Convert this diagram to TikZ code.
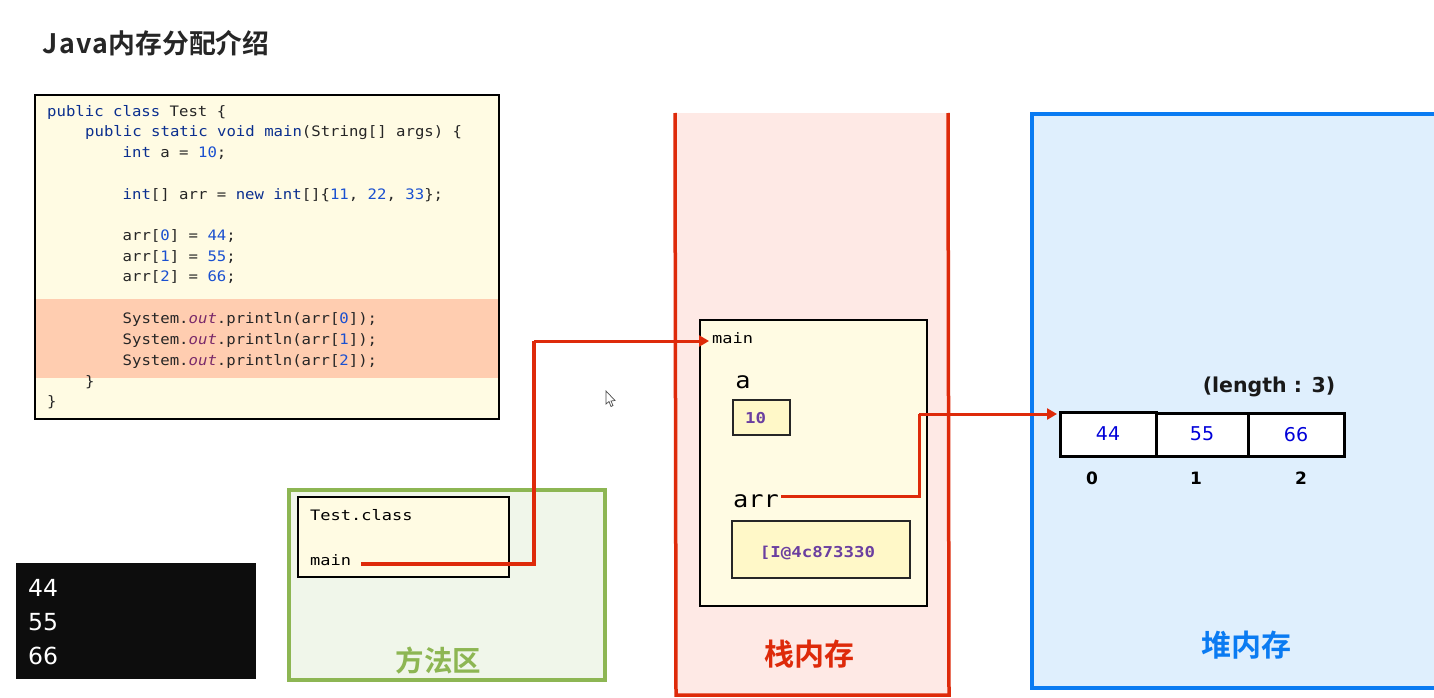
\documentclass[tikz,border=0pt]{standalone}
\usepackage{fontspec}
\setmonofont[FakeStretch=1.087]{DejaVu Sans Mono}
\setsansfont{DejaVu Sans}
\newfontfamily\cjkb{Noto Sans CJK SC Bold}
\newfontfamily\monoS[FakeStretch=1.18]{DejaVu Sans Mono}
\newfontfamily\monoB[FakeStretch=1.1]{DejaVu Sans Mono}
\newfontfamily\monoV[FakeStretch=1.16]{DejaVu Sans Mono Bold}
\newfontfamily\monoO[FakeStretch=1.087]{DejaVu Sans Mono Oblique}
\newfontfamily\titlelat[LetterSpace=6]{Noto Sans CJK SC Bold}
\usetikzlibrary{arrows.meta}
\definecolor{kw}{HTML}{0B2F8F}
\definecolor{num}{HTML}{1A50D0}
\definecolor{outc}{HTML}{7A2A6A}
\definecolor{creamc}{HTML}{FFFBE3}
\definecolor{valc}{HTML}{FFF8C8}
\definecolor{hl}{HTML}{FFCDB0}
\definecolor{redc}{HTML}{DE2A0A}
\definecolor{pinkc}{HTML}{FEE9E5}
\definecolor{bluec}{HTML}{0A7BF2}
\definecolor{bluef}{HTML}{DFEFFD}
\definecolor{greenc}{HTML}{8DB653}
\definecolor{greenf}{HTML}{F0F6EA}
\definecolor{purp}{HTML}{6B3FA0}
\newcommand{\K}[1]{\textcolor{kw}{#1}}
\newcommand{\N}[1]{\textcolor{num}{#1}}
\newcommand{\Ot}{\textcolor{outc}{\monoO out}}
\tikzset{
  codeline/.style={anchor=west,inner sep=0pt,font=\ttfamily\fontsize{14.4}{16}\selectfont,text=black!85,text height=10pt,text depth=3pt},
  smallmono/.style={anchor=west,inner sep=0pt,font=\monoS\fontsize{14.4}{16}\selectfont,text=black},
  bigmono/.style={anchor=center,inner sep=0pt,font=\monoB\fontsize{23}{26}\selectfont,text=black},
  valtext/.style={anchor=center,inner sep=0pt,font=\monoV\fontsize{15}{17}\selectfont,text=purp},
  framebox/.style={draw=black,line width=1.3pt,fill=creamc},
  valbox/.style={draw=black!85,line width=1.2pt,fill=valc},
  cell/.style={draw=black,line width=3.2pt,fill=white,inner sep=0pt,anchor=north west},
  cellnum/.style={anchor=center,inner sep=0pt,font=\sffamily\fontsize{19}{22}\selectfont,text=blue!85!black},
  idx/.style={anchor=center,inner sep=0pt,font=\sffamily\bfseries\fontsize{17}{20}\selectfont,text=black},
  area/.style={anchor=center,inner sep=0pt,font=\cjkb\fontsize{30}{33}\selectfont},
  termnum/.style={anchor=west,inner sep=0pt,font=\sffamily\fontsize{23.5}{27}\selectfont,text=white},
  link/.style={draw=redc,line width=4pt},
  linkthin/.style={draw=redc,line width=3pt},
  linkarrow/.style={draw=redc,line width=3pt,-{Triangle[length=10pt,width=11pt]}}
}
\begin{document}
\begin{tikzpicture}[x=1pt,y=-1pt]
\useasboundingbox (0,0) rectangle (1434,698);
\fill[white] (0,0) rectangle (1434,698);
% title
\node[anchor=west,inner sep=0pt,font=\cjkb\fontsize{26.8}{30}\selectfont,text=black!85] (title) at (42,43) {{\titlelat Java}内存分配介绍};
% code box
\draw[framebox] (35,95) rectangle (499,419);
\fill[hl] (36,299) rectangle (498,378);
\node[codeline] (c1) at (47,113) {\K{public} \K{class} Test \{};
\node[codeline] (c2) at (85,133) {\K{public} \K{static} \K{void} \K{main}(String[] args) \{};
\node[codeline] (c3) at (122.5,154) {\K{int} a = \N{10};};
\node[codeline] (c4) at (122.5,195.5) {\K{int}[] arr = \K{new} \K{int}[]\{\N{11}, \N{22}, \N{33}\};};
\node[codeline] (c5) at (122.5,237) {arr[\N{0}] = \N{44};};
\node[codeline] (c6) at (122.5,257.5) {arr[\N{1}] = \N{55};};
\node[codeline] (c7) at (122.5,278) {arr[\N{2}] = \N{66};};
\node[codeline] (c8) at (122.5,320) {System.\Ot.println(arr[\N{0}]);};
\node[codeline] (c9) at (122.5,341) {System.\Ot.println(arr[\N{1}]);};
\node[codeline] (c10) at (122.5,362) {System.\Ot.println(arr[\N{2}]);};
\node[codeline] (c11) at (85,382.5) {\}};
\node[codeline] (c12) at (47,403) {\}};
% terminal
\fill[black!95] (16,563) rectangle (256,679);
\node[termnum] (t1) at (28,588) {44};
\node[termnum] (t2) at (28,622) {55};
\node[termnum] (t3) at (28,656) {66};
% method area
\draw[greenc,line width=4pt,fill=greenf] (288.5,490) rectangle (605,680);
\draw[framebox] (298,497) rectangle (509,577);
\node[smallmono] (tc) at (310,515.5) {Test.class};
\node[smallmono] (tmain) at (310,560) {main};
\node[area,font=\cjkb\fontsize{28.5}{31}\selectfont,text=greenc] (ma) at (438.5,661) {方法区};
% stack
\fill[pinkc] (675,113) rectangle (948,696);
\draw[redc,line width=3.5pt] (675,113) -- (676,695) -- (949,695) -- (948,113);
\draw[framebox] (700,320) rectangle (927,606);
\node[smallmono] (smain) at (712,338) {main};
\node[bigmono] (va) at (743,382) {a};
\node[bigmono] (varr) at (756,501) {arr};
\draw[valbox] (733,400) rectangle (790,435);
\node[valtext] (v10) at (755.5,418) {10};
\draw[valbox] (732,521) rectangle (910,578);
\node[valtext] (vaddr) at (817.5,553) {[I@4c873330};
\node[area,text=redc] (st) at (809.5,654) {栈内存};
% heap
\draw[bluec,line width=4pt,fill=bluef] (1436,114) -- (1032,114) -- (1032,688) -- (1436,688);
\node[anchor=center,inner sep=0pt,font=\sffamily\bfseries\fontsize{20.5}{24}\selectfont,text=black!90] (len) at (1269,387) {(length : 3)};
\node[cell,minimum width=96pt,minimum height=44pt] (a0) at (1059,410.5) {};
\node[cell,minimum width=92pt,minimum height=43pt] (a1) at (1155,411.5) {};
\node[cell,minimum width=96pt,minimum height=43pt] (a2) at (1247,411.5) {};
\node[cellnum] (n0) at (1108,434) {44};
\node[cellnum] (n1) at (1202,434) {55};
\node[cellnum] (n2) at (1296,435) {66};
\node[idx] (i0) at (1092,478) {0};
\node[idx] (i1) at (1196,478) {1};
\node[idx] (i2) at (1301,478) {2};
\node[area,text=bluec] (hp) at (1246,645) {堆内存};
% cursor
\draw[black!70,fill=white,line width=.7pt] (606,391) -- (606,404) -- (609,401.5) -- (611,406.5) -- (613,405.5) -- (611,401) -- (615,400.5) -- cycle;
% connectors
\coordinate (e1) at (534,564);
\coordinate (e2) at (534,341);
\coordinate (e3) at (919,496);
\coordinate (e4) at (919,414);
\coordinate (mstart) at ([xshift=10pt]tmain.east|-e1);
\coordinate (astart) at ([xshift=2pt]varr.east|-e3);
\coordinate (mend) at ([xshift=-3pt]smain.west|-e2);
\coordinate (aend) at ([xshift=-2pt]a0.west|-e4);
\draw[link] (mstart) -- (e1) -- (e2);
\draw[linkarrow] (e2) -- (mend);
\draw[linkthin] (astart) -- (e3) -- (e4);
\draw[linkarrow] (e4) -- (aend);
\end{tikzpicture}
\end{document}
